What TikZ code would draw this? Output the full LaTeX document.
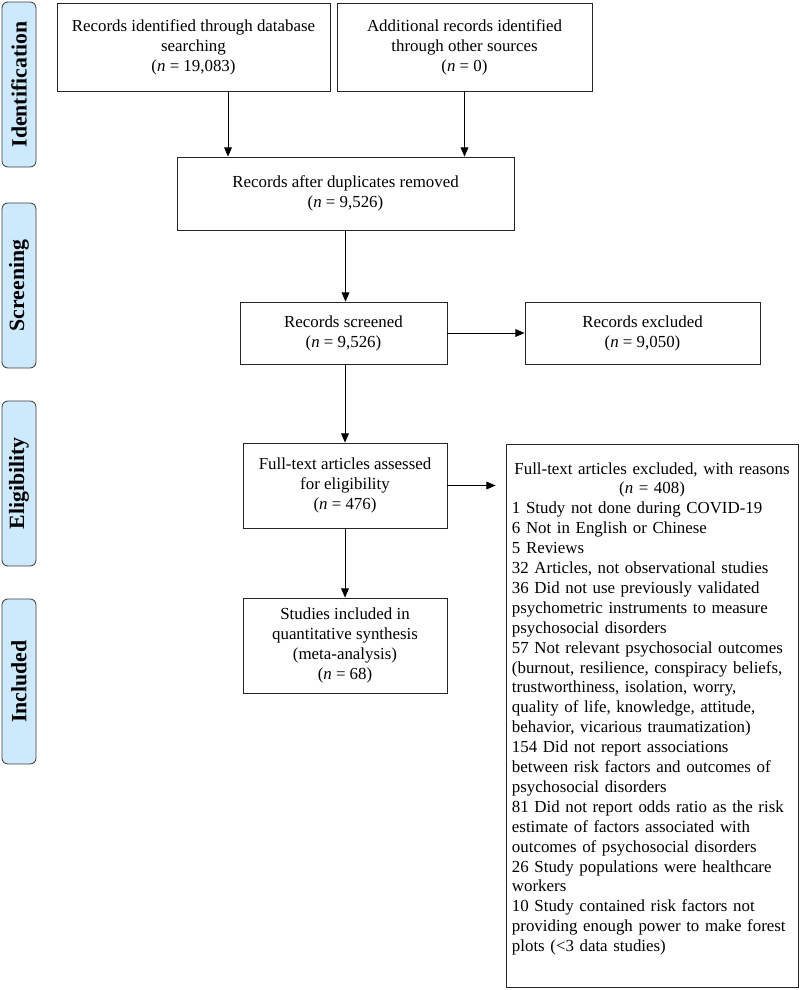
\documentclass[tikz,border=0pt]{standalone}
\usepackage{fontspec}
\setmainfont{Liberation Serif}
\usetikzlibrary{arrows.meta,calc}
\definecolor{sidefill}{RGB}{205,233,252}
\newcommand{\nn}{\textit{n}}
\begin{document}
\begin{tikzpicture}[
			x=0.025cm, y=-0.025cm,
			main/.style = {draw=black!85, line width=0.6pt, rectangle, align=center, inner sep=2pt,
				font=\fontsize{12}{14.15}\selectfont},
			side/.style = {draw=black!75, line width=0.6pt, fill=sidefill, rounded corners=0.15cm,
				rotate=90, minimum width=4.125cm, minimum height=0.85cm,
				font=\fontsize{15.5}{18}\selectfont\bfseries},
			arr/.style={draw, line width=0.6pt, -{Triangle[length=6.5pt,width=5.5pt]}},
			]
			\useasboundingbox (0,0) rectangle (800,990);
			% phase labels
			\node[side] (ident) at (19,84.5) {Identification};
			\node[side] (screen) at (19,285.5) {Screening};
			\node[side] (elig) at (19,483.5) {Eligibility};
			\node[side] (incl) at (19,681.5) {Included};
			% boxes
			\node[main, minimum width=6.825cm, minimum height=2.2cm] (db) at (193.5,47)
				{Records identified through database\\ searching\\ (\nn{} = 19,083)};
			\node[main, minimum width=6.375cm, minimum height=2.2cm] (other) at (464.5,47)
				{Additional records identified\\ through other sources\\ (\nn{} = 0)};
			\node[main, minimum width=8.425cm, minimum height=1.825cm] (dup) at (345.5,193.5)
				{Records after duplicates removed\\ (\nn{} = 9,526)};
			\node[main, minimum width=5.175cm, minimum height=1.55cm] (screened) at (343.5,333)
				{Records screened\\ (\nn{} = 9,526)};
			\node[main, minimum width=5.875cm, minimum height=1.55cm] (excl) at (642.5,333)
				{Records excluded\\ (\nn{} = 9,050)};
			\node[main, minimum width=5.1cm, minimum height=2.125cm] (fulltext) at (345,485.5)
				{Full-text articles assessed\\ for eligibility\\ (\nn{} = 476)};
			\node[main, minimum width=5.1cm, minimum height=2.375cm] (studies) at (345,645.5)
				{Studies included in\\ quantitative synthesis\\ (meta-analysis)\\ (\nn{} = 68)};
			\node[main, anchor=north, align=left, text width=7.0cm, inner xsep=0.15cm,
				minimum height=13.575cm] (reasons) at (652,444)
				{\hyphenpenalty=10000
				{\centering Full-text articles excluded, with reasons\\ (\nn{} = 408)\par}
				1 Study not done during COVID-19\\
				6 Not in English or Chinese\\
				5 Reviews\\
				32 Articles, not observational studies\\
				36 Did not use previously validated\\
				psychometric instruments to measure\\
				psychosocial disorders\\
				57 Not relevant psychosocial outcomes\\
				(burnout, resilience, conspiracy beliefs,\\
				trustworthiness, isolation, worry,\\
				quality of life, knowledge, attitude,\\
				behavior, vicarious traumatization)\\
				154 Did not report associations\\
				between risk factors and outcomes of\\
				psychosocial disorders\\
				81 Did not report odds ratio as the risk\\
				estimate of factors associated with\\
				outcomes of psychosocial disorders\\
				26 Study populations were healthcare\\
				workers\\
				10 Study contained risk factors not\\
				providing enough power to make forest\\
				plots (<3 data studies)\rule[-0.45cm]{0pt}{0.1pt}};
			% arrows
			\draw[arr] ([xshift=0.8625cm]db.south) -- ([xshift=0.8625cm]db.south |- dup.north);
			\draw[arr] (other.south) -- (other.south |- dup.north);
			\draw[arr] (dup.south) -- (dup.south |- screened.north);
			\draw[arr] (screened.east) -- (excl.west);
			\draw[arr] (fulltext.north |- screened.south) -- (fulltext.north);
			\draw[arr, shorten >=0.25cm] (fulltext.east) -- (fulltext.east -| reasons.west);
			\draw[arr] (fulltext.south) -- (studies.north);
		\end{tikzpicture}
\end{document}
